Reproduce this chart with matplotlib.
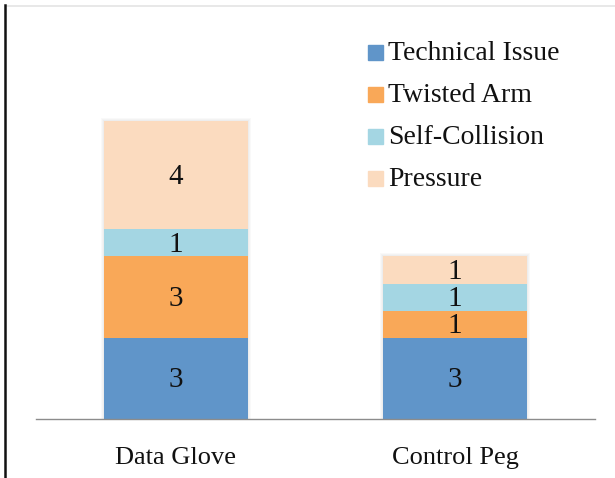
import matplotlib.pyplot as plt
import numpy as np
from matplotlib.patches import Rectangle
from matplotlib.lines import Line2D
from matplotlib.transforms import offset_copy

# Data
groups = ["Data Glove", "Control Peg"]
series = ["Technical Issue", "Twisted Arm", "Self-Collision", "Pressure"]
technical = [3, 3]
twisted = [3, 1]
collision = [1, 1]
pressure = [4, 1]
colors = ["#6095C9", "#F9A858", "#A4D6E3", "#FBDBBF"]

W, H = 615, 478
fig = plt.figure(figsize=(W / 100, H / 100), dpi=100)
plt.rcParams["font.family"] = ["Liberation Serif", "DejaVu Serif"]

# plot area in pixel coords
left, right, bottom, top = 36, 595, 419, 14
ax = fig.add_axes([left / W, 1 - bottom / H, (right - left) / W, (bottom - top) / H])
unit = (bottom - 121) / 11  # pixels per count
ax.set_xlim(-0.5, 1.5)
ax.set_ylim(0, (bottom - top) / unit)

x = np.arange(len(groups))
bw = 0.515
totals = np.sum([technical, twisted, collision, pressure], axis=0)

# faint soft shadow round each stack
px = 1 / ((right - left) / 2)   # one pixel in x data units
py = 1 / unit                   # one pixel in y data units
for k in range(1, 4):
    ax.bar(x, totals + k * py, width=bw + 2 * k * px, color="black",
           alpha=0.025, zorder=1, linewidth=0)

label_tr = offset_copy(ax.transData, fig=fig, x=0, y=-2, units="dots")
base = np.zeros(len(groups))
for vals, col in zip([technical, twisted, collision, pressure], colors):
    bars = ax.bar(x, vals, bottom=base, width=bw, color=col, zorder=2)
    for b, v, y0 in zip(bars, vals, base):
        ax.text(b.get_x() + b.get_width() / 2, y0 + v / 2, str(v), transform=label_tr,
                ha="center", va="center", fontsize=21, color="#111111", zorder=3)
    base = base + np.array(vals)

ax.set_yticks([])
ax.set_xticks(x)
ax.set_xticklabels(groups, fontsize=19, color="#111111")
ax.tick_params(axis="x", length=0, pad=20)
for s in ["top", "right", "left"]:
    ax.spines[s].set_visible(False)
ax.spines["bottom"].set_color("#8C8C8C")
ax.spines["bottom"].set_linewidth(1.0)
ax.spines["bottom"].set_zorder(4)

# legend drawn by hand
for i, (name, col) in enumerate(zip(series, colors)):
    yc = 52 + i * 42
    fig.patches.append(Rectangle((368 / W, 1 - (yc + 7.5) / H), 15 / W, 15 / H,
                                 transform=fig.transFigure, color=col))
    fig.text(388 / W, 1 - (yc + 1) / H, name, fontsize=20, va="center", ha="left",
             color="#111111")

# frame lines
fig.add_artist(Line2D([7 / W, 1], [1 - 6 / H, 1 - 6 / H], color="#E4E4E4", lw=1.2))
fig.add_artist(Line2D([5 / W, 5 / W], [0, 1 - 5 / H], color="#111111", lw=1.8))

fig.savefig("out.png", dpi=100)
